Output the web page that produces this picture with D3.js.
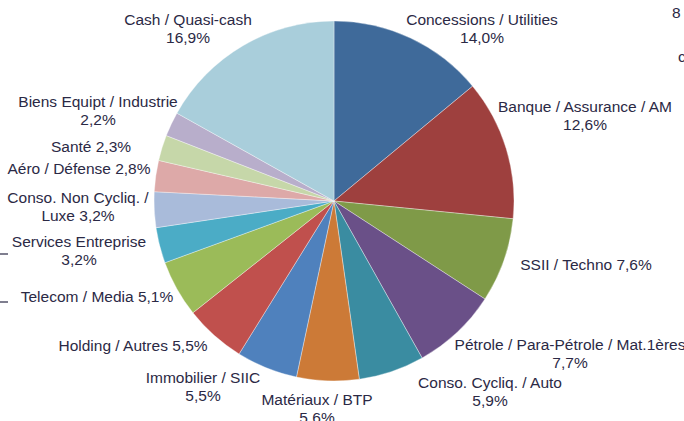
<!DOCTYPE html>
<html>
<head>
<meta charset="utf-8">
<script src="https://cdn.jsdelivr.net/npm/d3@7"></script>
<style>
  body { margin: 0; background: #fff; }
  .lbl { font-family: "Liberation Sans", Arial, sans-serif; font-size: 15.5px; fill: #2b2945; }
</style>
</head>
<body>
<div id="chart"></div>
<script>
// Répartition sectorielle (sens horaire depuis midi)
const categories = [
    "Concessions / Utilities", "Banque / Assurance / AM", "SSII / Techno",
    "Pétrole / Para-Pétrole / Mat.1ères", "Conso. Cycliq. / Auto", "Matériaux / BTP",
    "Immobilier / SIIC", "Holding / Autres", "Telecom / Media", "Services Entreprise",
    "Conso. Non Cycliq. / Luxe", "Aéro / Défense", "Santé", "Biens Equipt / Industrie",
    "Cash / Quasi-cash"
];
const values = [14.0, 12.6, 7.6, 7.7, 5.9, 5.6, 5.5, 5.5, 5.1, 3.2, 3.2, 2.8, 2.3, 2.2, 16.9];
const colors = [
    "#3f6a9a", "#9e403e", "#7f9a48", "#6a5088", "#3a8ca1", "#cc7a37",
    "#4f81bd", "#c0504d", "#9bbb59", "#4bacc6", "#a9bbda", "#dda9a8",
    "#c6d7a9", "#b8aecb", "#a9cedb"
];
// Libellés affichés (lignes)
const labelLines = [
    ["Concessions / Utilities", "14,0%"],
    ["Banque / Assurance / AM", "12,6%"],
    ["SSII / Techno 7,6%"],
    ["Pétrole / Para-Pétrole / Mat.1ères", "7,7%"],
    ["Conso. Cycliq. / Auto", "5,9%"],
    ["Matériaux / BTP", "5,6%"],
    ["Immobilier / SIIC", "5,5%"],
    ["Holding / Autres 5,5%"],
    ["Telecom / Media 5,1%"],
    ["Services Entreprise", "3,2%"],
    ["Conso. Non Cycliq. /", "Luxe 3,2%"],
    ["Aéro / Défense 2,8%"],
    ["Santé 2,3%"],
    ["Biens Equipt / Industrie", "2,2%"],
    ["Cash / Quasi-cash", "16,9%"]
];

function createChart() {
    const width = 684, height = 421;
    const cx = 334, cy = 201, radius = 180;

    // position du centre de la première ligne de chaque libellé
    const labelPos = [
        [482, 20], [585, 107], [586, 265], [570, 345], [490, 383], [317, 400],
        [203, 378], [133, 346], [97, 297], [79, 242], [78, 198], [79, 169],
        [91, 147], [98, 102], [188, 20]
    ];
    const lineHeight = 18;

    const svg = d3.select("#chart")
        .append("svg")
        .attr("width", width)
        .attr("height", height);

    const data = categories.map((c, i) => ({ name: c, value: values[i], color: colors[i], i: i }));

    const pie = d3.pie().sort(null).value(d => d.value);
    const arc = d3.arc().innerRadius(0).outerRadius(radius);

    const g = svg.append("g").attr("transform", `translate(${cx},${cy})`);

    g.selectAll("path")
        .data(pie(data))
        .enter()
        .append("path")
        .attr("d", arc)
        .attr("fill", d => d.data.color)
        .attr("stroke", "#fff")
        .attr("stroke-opacity", 0.6)
        .attr("stroke-width", 0.6);

    // Libellés
    const labels = svg.selectAll(".lbl")
        .data(data)
        .enter()
        .append("text")
        .attr("class", "lbl")
        .attr("text-anchor", "middle");

    labels.each(function(d) {
        const [x, y] = labelPos[d.i];
        d3.select(this).selectAll("tspan")
            .data(labelLines[d.i])
            .enter()
            .append("tspan")
            .attr("x", x)
            .attr("y", (t, j) => y + j * lineHeight)
            .attr("dy", "0.35em")
            .text(t => t);
    });

    // Restes du graphique voisin (coupés)
    svg.append("text").attr("class", "lbl").attr("x", 672).attr("y", 13).attr("dy", "0.35em").text("8");
    svg.append("text").attr("class", "lbl").attr("x", 678).attr("y", 57).attr("dy", "0.35em").text("c");
    [254, 302].forEach(y => {
        svg.append("line")
            .attr("x1", 0).attr("x2", 8)
            .attr("y1", y).attr("y2", y)
            .attr("stroke", "#2b2945")
            .attr("stroke-width", 1.2);
    });
}

createChart();
</script>
</body>
</html>
